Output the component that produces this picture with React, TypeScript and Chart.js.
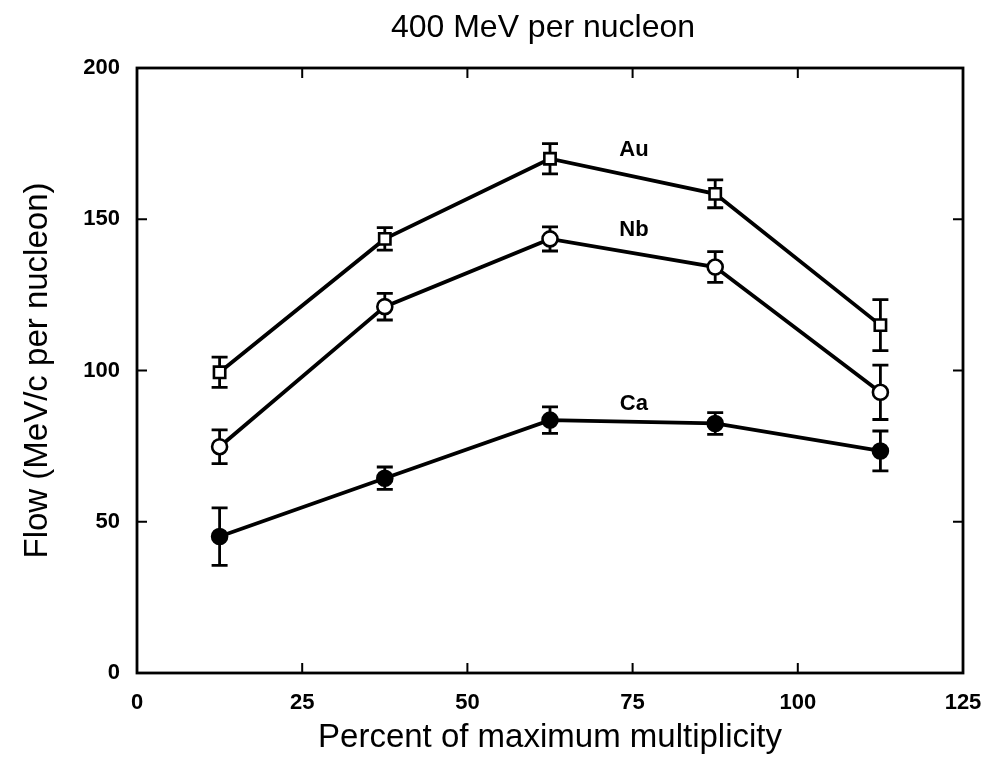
import { useEffect, useRef } from "react";
import { Chart, registerables } from "chart.js";

Chart.register(...registerables);

// ---- data ----
const chartTitle = "400 MeV per nucleon";
const multiplicity = [12.5, 37.5, 62.5, 87.5, 112.5];
const auFlow = [99.4, 143.5, 170.0, 158.4, 115.0];
const auErr = [5.0, 3.7, 5.0, 4.6, 8.4];
const nbFlow = [74.8, 121.1, 143.5, 134.2, 92.8];
const nbErr = [5.6, 4.4, 4.0, 5.1, 9.0];
const caFlow = [45.1, 64.4, 83.6, 82.5, 73.4];
const caErr = [9.5, 3.7, 4.4, 3.6, 6.6];
const seriesNames = ["Au", "Nb", "Ca"];
// label anchor points in data coordinates
const labelX = [75.2, 75.2, 75.2];
const labelY = [173, 146.5, 89.0];

const FONT = "'Liberation Sans', Arial, sans-serif";

const errorBarPlugin = {
  id: "errorBars",
  beforeDatasetsDraw(chart: any) {
    const { ctx, scales } = chart;
    const y = scales.y;
    ctx.save();
    ctx.strokeStyle = "#000";
    ctx.lineWidth = 2.8;
    chart.data.datasets.forEach((ds: any, i: number) => {
      const meta = chart.getDatasetMeta(i);
      const errs: number[] = ds.errors || [];
      meta.data.forEach((pt: any, j: number) => {
        const v = ds.data[j].y;
        const e = errs[j];
        if (e == null) return;
        const yTop = y.getPixelForValue(v + e);
        const yBot = y.getPixelForValue(v - e);
        const px = pt.x;
        ctx.beginPath();
        ctx.moveTo(px, yTop);
        ctx.lineTo(px, yBot);
        ctx.moveTo(px - 8, yTop);
        ctx.lineTo(px + 8, yTop);
        ctx.moveTo(px - 8, yBot);
        ctx.lineTo(px + 8, yBot);
        ctx.stroke();
      });
    });
    ctx.restore();
  },
  afterDatasetsDraw(chart: any) {
    const { ctx, scales } = chart;
    ctx.save();
    ctx.fillStyle = "#000";
    ctx.font = `bold 22px ${FONT}`;
    ctx.textAlign = "center";
    ctx.textBaseline = "middle";
    seriesNames.forEach((n, i) => {
      ctx.fillText(n, scales.x.getPixelForValue(labelX[i]), scales.y.getPixelForValue(labelY[i]));
    });
    ctx.restore();
  },
};

const framePlugin = {
  id: "frame",
  afterDraw(chart: any) {
    const { ctx, chartArea, scales } = chart;
    const { left, right, top, bottom } = chartArea;
    ctx.save();
    ctx.strokeStyle = "#000";
    ctx.lineWidth = 2.8;
    ctx.strokeRect(left, top, right - left, bottom - top);
    ctx.lineWidth = 2;
    const len = 10;
    ctx.beginPath();
    scales.x.ticks.forEach((t: any) => {
      if (t.value <= scales.x.min || t.value >= scales.x.max) return;
      const px = scales.x.getPixelForValue(t.value);
      ctx.moveTo(px, bottom);
      ctx.lineTo(px, bottom - len);
      ctx.moveTo(px, top);
      ctx.lineTo(px, top + len);
    });
    scales.y.ticks.forEach((t: any) => {
      if (t.value <= scales.y.min || t.value >= scales.y.max) return;
      const py = scales.y.getPixelForValue(t.value);
      ctx.moveTo(left, py);
      ctx.lineTo(left + len, py);
      ctx.moveTo(right, py);
      ctx.lineTo(right - len, py);
    });
    ctx.stroke();
    // title centred over the plot area
    ctx.fillStyle = "#000";
    ctx.font = `32px ${FONT}`;
    ctx.textAlign = "center";
    ctx.textBaseline = "middle";
    ctx.fillText(chartTitle, 543, 28);
    ctx.restore();
  },
};

function toPoints(vals: number[]) {
  return multiplicity.map((x, i) => ({ x, y: vals[i] }));
}

export default function App() {
  const ref = useRef<HTMLCanvasElement | null>(null);

  useEffect(() => {
    document.body.style.margin = "0";
    if (!ref.current) return;
    const common = {
      borderColor: "#000",
      borderWidth: 3.8,
      pointBorderColor: "#000",
      pointBorderWidth: 2.6,
      pointRadius: 7.5,
      showLine: true,
      tension: 0,
    };
    const chart = new Chart(ref.current, {
      type: "scatter",
      data: {
        datasets: [
          { ...common, label: "Au", data: toPoints(auFlow), errors: auErr, pointStyle: "rect", pointBackgroundColor: "#fff", pointRadius: 8 } as any,
          { ...common, label: "Nb", data: toPoints(nbFlow), errors: nbErr, pointStyle: "circle", pointBackgroundColor: "#fff" } as any,
          { ...common, label: "Ca", data: toPoints(caFlow), errors: caErr, pointStyle: "circle", pointBackgroundColor: "#000" } as any,
        ],
      },
      options: {
        animation: false,
        responsive: true,
        maintainAspectRatio: false,
        layout: { padding: { left: 0, right: 20, top: 68, bottom: 0 } },
        plugins: {
          legend: { display: false },
          tooltip: { enabled: false },
          title: { display: false },
        },
        scales: {
          x: {
            type: "linear",
            min: 0,
            max: 125,
            ticks: { stepSize: 25, color: "#000", padding: 9, font: { family: FONT, size: 22, weight: "bold" } },
            grid: { display: false },
            border: { display: false },
            title: {
              display: true,
              text: "Percent of maximum multiplicity",
              color: "#000",
              font: { family: FONT, size: 33, weight: "normal" },
              padding: { top: 0, bottom: 0 },
            },
            afterFit: (s: any) => {
              s.height = 85;
              s.paddingLeft = 0;
              s.paddingRight = 0;
            },
          },
          y: {
            type: "linear",
            min: 0,
            max: 200,
            ticks: { stepSize: 50, color: "#000", padding: 9, font: { family: FONT, size: 22, weight: "bold" } },
            grid: { display: false },
            border: { display: false },
            title: {
              display: true,
              text: "Flow (MeV/c per nucleon)",
              color: "#000",
              font: { family: FONT, size: 33, weight: "normal" },
              padding: { top: 18, bottom: 0 },
            },
            afterFit: (s: any) => {
              s.width = 137;
              s.paddingTop = 0;
              s.paddingBottom = 0;
            },
          },
        },
      } as any,
      plugins: [errorBarPlugin, framePlugin],
    });
    return () => chart.destroy();
  }, []);

  return (
    <div style={{ width: 983, height: 758, position: "relative", background: "#fff" }}>
      <canvas ref={ref} />
    </div>
  );
}
